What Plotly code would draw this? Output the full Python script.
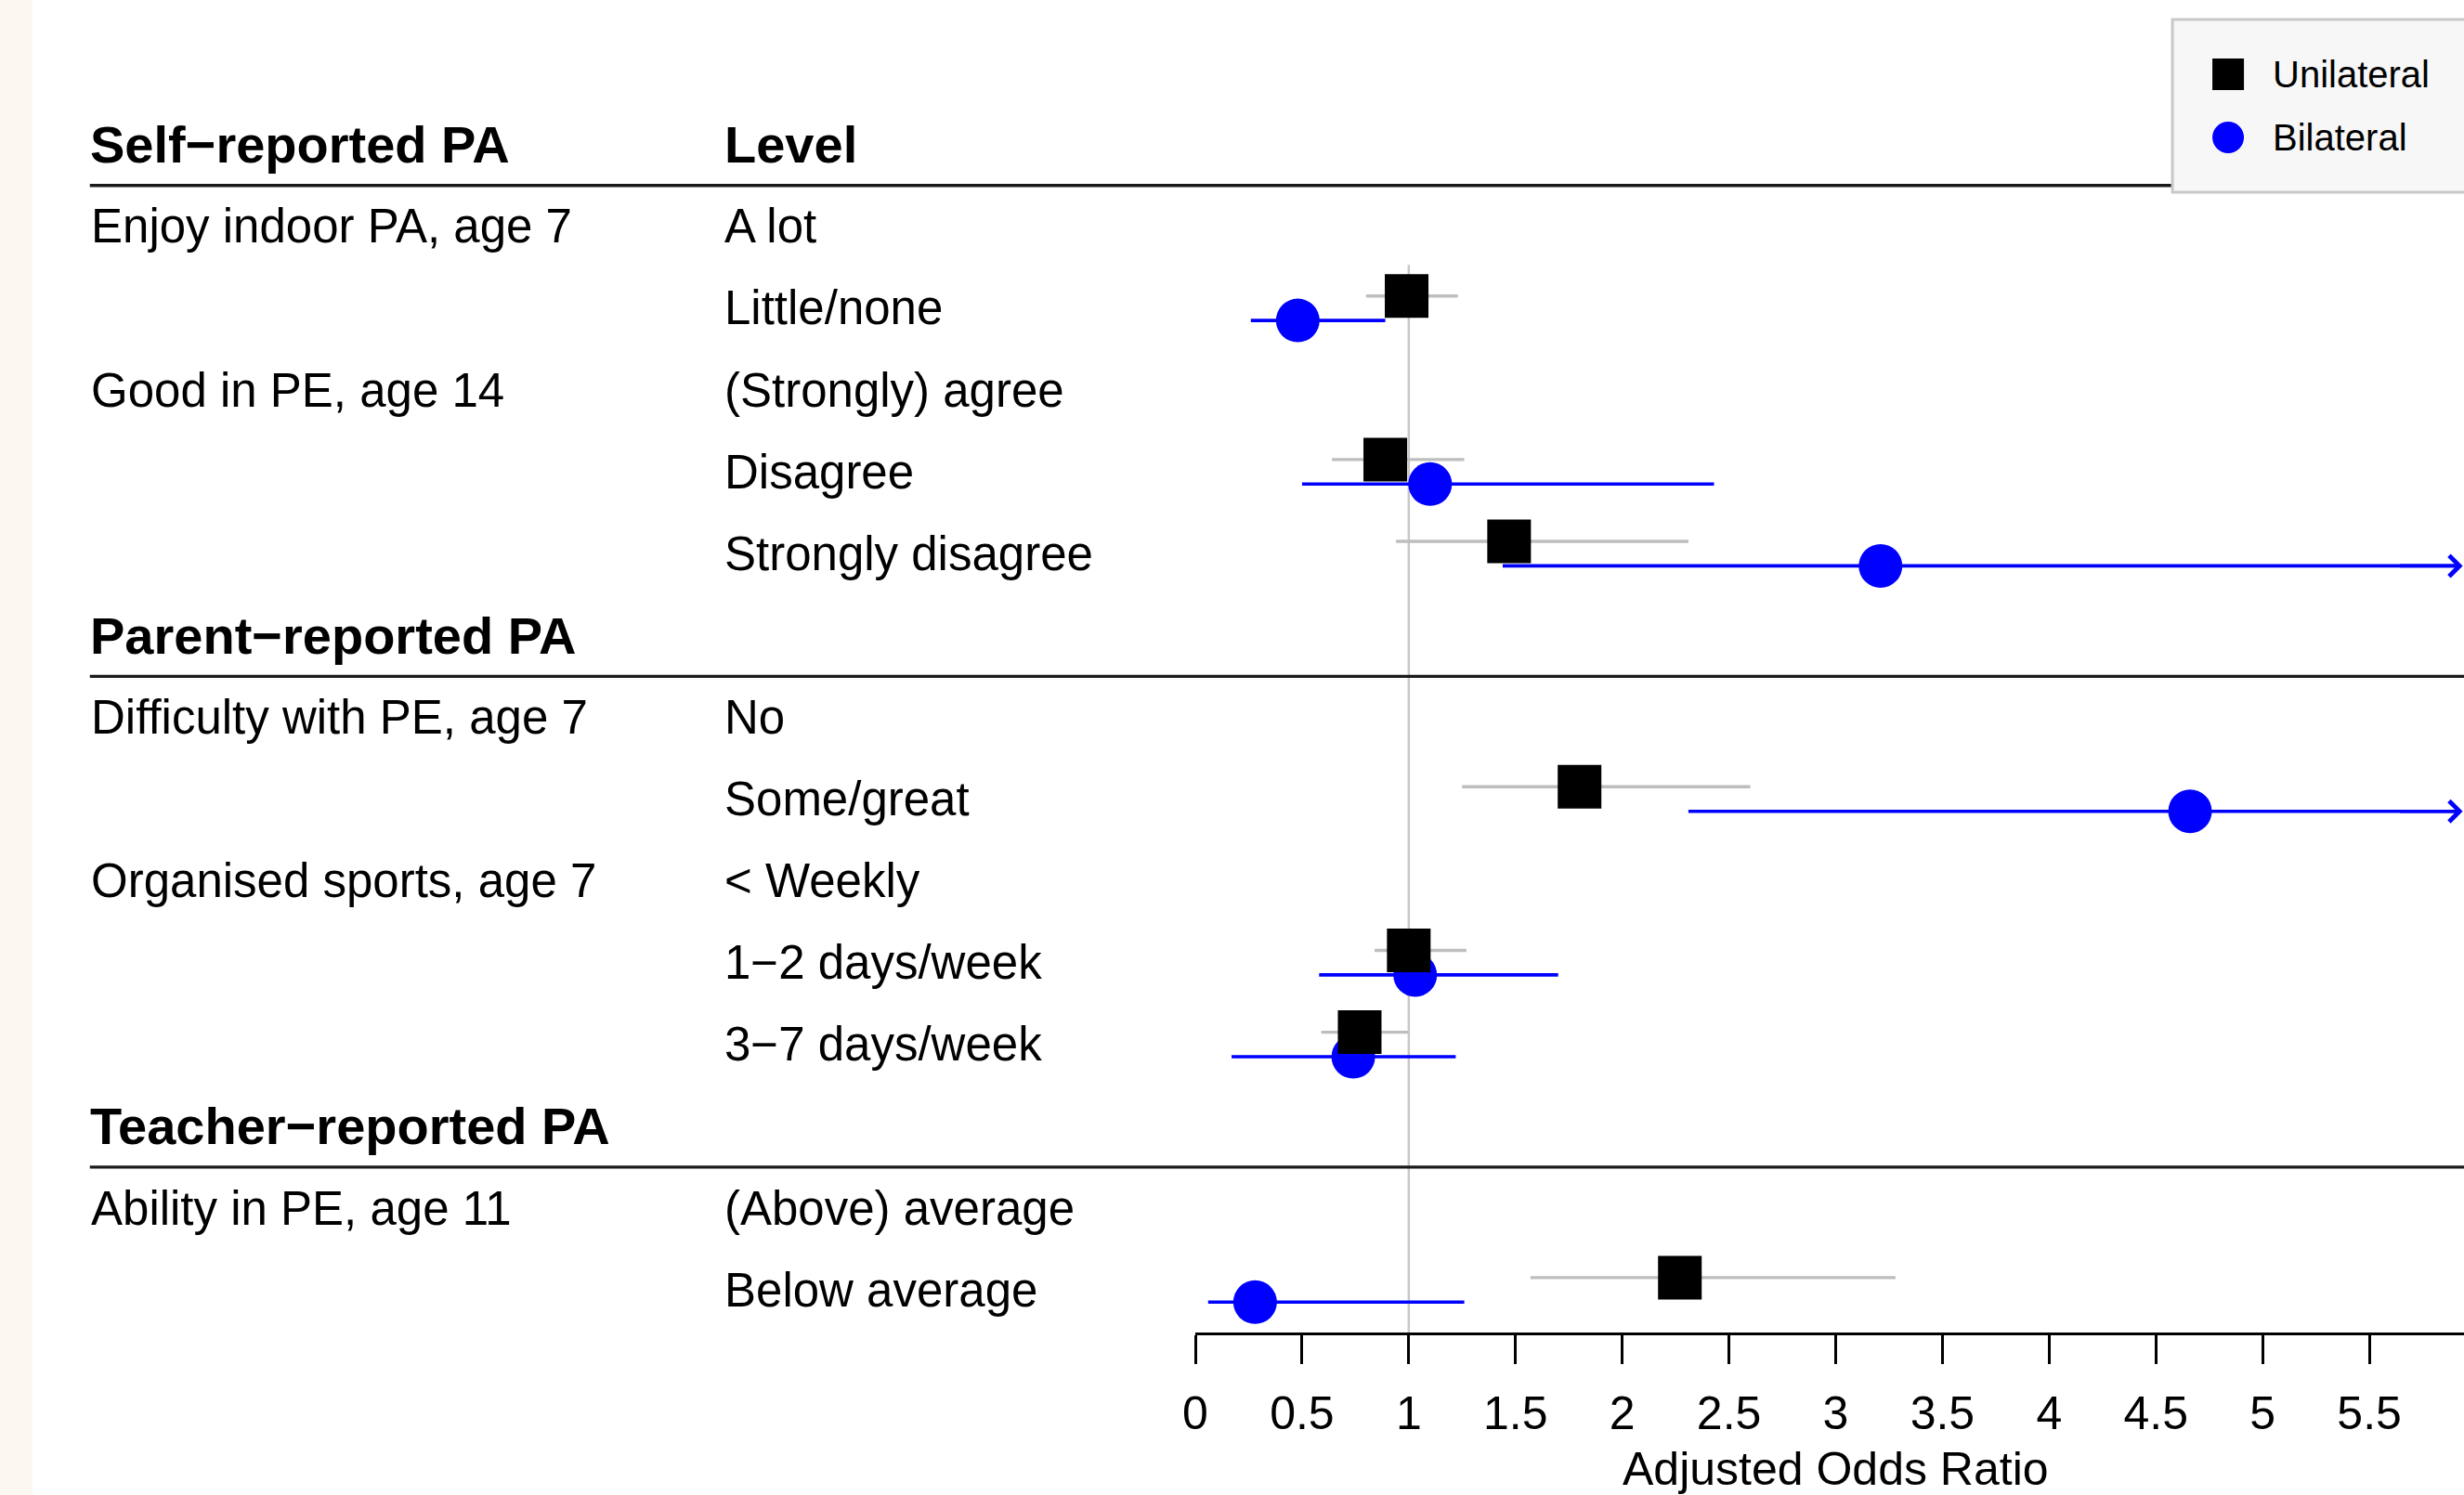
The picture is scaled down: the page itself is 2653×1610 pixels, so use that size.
import plotly.graph_objects as go

# ---------------- data ----------------
section_titles = ["Self\u2212reported PA", "Parent\u2212reported PA", "Teacher\u2212reported PA"]
section_rows = [0, 6, 12]
column_header_level = "Level"

variables = ["Enjoy indoor PA, age 7", "Good in PE, age 14", "Difficulty with PE, age 7",
             "Organised sports, age 7", "Ability in PE, age 11"]
variable_rows = [1, 3, 7, 9, 13]

levels = ["A lot", "Little/none", "(Strongly) agree", "Disagree", "Strongly disagree",
          "No", "Some/great", "< Weekly", "1\u22122 days/week", "3\u22127 days/week",
          "(Above) average", "Below average"]
level_rows = [1, 2, 3, 4, 5, 7, 8, 9, 10, 11, 13, 14]

est_levels = ["Little/none", "Disagree", "Strongly disagree", "Some/great",
              "1\u22122 days/week", "3\u22127 days/week", "Below average"]
uni_or = [0.99, 0.89, 1.47, 1.80, 1.00, 0.77, 2.27]
uni_lo = [0.80, 0.64, 0.94, 1.25, 0.84, 0.59, 1.57]
uni_hi = [1.23, 1.26, 2.31, 2.60, 1.27, 1.00, 3.28]
bi_or = [0.48, 1.10, 3.21, 4.66, 1.03, 0.74, 0.28]
bi_lo = [0.26, 0.50, 1.44, 2.31, 0.58, 0.17, 0.06]
bi_hi = [0.89, 2.43, None, None, 1.70, 1.22, 1.26]   # None = upper limit beyond axis (arrow)

x_ticks = [0, 0.5, 1, 1.5, 2, 2.5, 3, 3.5, 4, 4.5, 5, 5.5, 6]
x_tick_labels = ["0", "0.5", "1", "1.5", "2", "2.5", "3", "3.5", "4", "4.5", "5", "5.5", "6"]
x_title = "Adjusted Odds Ratio"
legend_names = ["Unilateral", "Bilateral"]
ref_value = 1

# ---------------- geometry / style ----------------
W, H = 2653, 1610
X0_PX = 1286.6          # pixel of OR = 0
PPU = 229.9             # pixels per OR unit
AXIS_PY = 1435          # pixel row of the x axis line
ROW0_PY = 155.7         # pixel of row 0
ROW_PX = 88.1           # pixels per row
OFF = 0.15              # vertical offset of the two series

FONT = "Liberation Sans, Arial, Helvetica, sans-serif"
BLUE = "#0000FF"
GREY = "#BEBEBE"

xmax = (W - X0_PX) / PPU
y_bottom = (AXIS_PY - ROW0_PY) / ROW_PX
y_top = -ROW0_PY / ROW_PX


def pxx(px):
    return (px - X0_PX) / (W - X0_PX)


def pxy(py):
    return (AXIS_PY - py) / AXIS_PY


rows_of = dict(zip(levels, level_rows))
est_rows = [rows_of[l] for l in est_levels]

uni_y = [r - OFF for r in est_rows]
bi_y = [r + OFF for r in est_rows]
tip = xmax - 0.006
bi_hi_disp = [h if h is not None else tip - 0.03 for h in bi_hi]

fig = go.Figure()

# Bilateral (drawn first, under the squares)
fig.add_trace(go.Scatter(
    x=bi_or, y=bi_y, mode="markers", name=legend_names[1],
    marker=dict(symbol="circle", size=47, color=BLUE, line=dict(width=0)),
    error_x=dict(type="data", symmetric=False,
                 array=[h - o for h, o in zip(bi_hi_disp, bi_or)],
                 arrayminus=[o - l for o, l in zip(bi_or, bi_lo)],
                 color=BLUE, thickness=3.6, width=0),
))

# Unilateral
fig.add_trace(go.Scatter(
    x=uni_or, y=uni_y, mode="markers", name=legend_names[0],
    marker=dict(symbol="square", size=47, color="black", line=dict(width=0)),
    error_x=dict(type="data", symmetric=False,
                 array=[h - o for h, o in zip(uni_hi, uni_or)],
                 arrayminus=[o - l for o, l in zip(uni_or, uni_lo)],
                 color=GREY, thickness=3.4, width=0),
))

annotations = []
shapes = []

# left beige strip
shapes.append(dict(type="rect", xref="paper", yref="paper", x0=pxx(-10), x1=pxx(34),
                   y0=pxy(H + 10), y1=pxy(-10), fillcolor="#FCF7F0", line=dict(width=0),
                   layer="below"))

# reference line at OR = 1
shapes.append(dict(type="line", xref="x", yref="y", x0=ref_value, x1=ref_value,
                   y0=1.47, y1=y_bottom, line=dict(color="#C8C8C8", width=2.5), layer="below"))

# section header lines
for r in section_rows:
    shapes.append(dict(type="line", xref="paper", yref="y", x0=pxx(96), x1=1.02,
                       y0=r + 0.5, y1=r + 0.5, line=dict(color="#1A1A1A", width=3.3)))

# section titles
for t, r in zip(section_titles, section_rows):
    annotations.append(dict(text="<b>%s</b>" % t, xref="paper", yref="y", x=pxx(94), y=r,
                            xanchor="left", yanchor="middle", showarrow=False,
                            font=dict(family=FONT, size=56, color="black")))
annotations.append(dict(text="<b>%s</b>" % column_header_level, xref="paper", yref="y",
                        x=pxx(777), y=section_rows[0], xanchor="left", yanchor="middle",
                        showarrow=False, font=dict(family=FONT, size=56, color="black")))

for t, r in zip(variables, variable_rows):
    annotations.append(dict(text=t, xref="paper", yref="y", x=pxx(95), y=r,
                            xanchor="left", yanchor="middle", showarrow=False,
                            font=dict(family=FONT, size=51, color="black")))
for t, r in zip(levels, level_rows):
    annotations.append(dict(text=t, xref="paper", yref="y", x=pxx(777), y=r,
                            xanchor="left", yanchor="middle", showarrow=False,
                            font=dict(family=FONT, size=51, color="black")))

# arrows for truncated upper limits
for h, y in zip(bi_hi, bi_y):
    if h is None:
        annotations.append(dict(text="", x=tip, y=y, xref="x", yref="y",
                                ax=tip - 0.3, ay=y, axref="x", ayref="y",
                                showarrow=True, arrowhead=4, arrowsize=1.2,
                                arrowwidth=3.6, arrowcolor=BLUE, standoff=0))

# axis title (centred on full 0-6 axis) and the clipped "6" label
annotations.append(dict(text=x_title, xref="paper", yref="paper",
                        x=pxx(X0_PX + 3 * PPU), y=pxy(1582), xanchor="center", yanchor="middle",
                        showarrow=False, font=dict(family=FONT, size=50, color="black")))
annotations.append(dict(text=x_tick_labels[-1], xref="paper", yref="paper",
                        x=pxx(X0_PX + x_ticks[-1] * PPU), y=pxy(1522), xanchor="center",
                        yanchor="middle", showarrow=False,
                        font=dict(family=FONT, size=50, color="black")))

# legend (drawn manually)
shapes.append(dict(type="rect", xref="paper", yref="paper", x0=pxx(2339), x1=pxx(W + 60),
                   y0=pxy(207), y1=pxy(21), fillcolor="#F7F7F7",
                   line=dict(color="#C8C8C8", width=3)))
shapes.append(dict(type="rect", xref="paper", yref="paper", x0=pxx(2382), x1=pxx(2416),
                   y0=pxy(97), y1=pxy(63), fillcolor="black", line=dict(width=0)))
shapes.append(dict(type="circle", xref="paper", yref="paper", x0=pxx(2382), x1=pxx(2416),
                   y0=pxy(165), y1=pxy(131), fillcolor=BLUE, line=dict(width=0)))
for name, py in zip(legend_names, [80, 148]):
    annotations.append(dict(text=name, xref="paper", yref="paper", x=pxx(2445), y=pxy(py),
                            xanchor="left", yanchor="middle", showarrow=False,
                            font=dict(family=FONT, size=40, color="black")))

fig.update_layout(
    width=W, height=H,
    margin=dict(l=X0_PX, r=0, t=0, b=H - AXIS_PY, pad=0),
    paper_bgcolor="white", plot_bgcolor="white",
    showlegend=False,
    shapes=shapes, annotations=annotations,
    font=dict(family=FONT, color="black"),
    xaxis=dict(range=[0, xmax], tickvals=x_ticks, ticktext=x_tick_labels,
               ticks="outside", ticklen=31, tickwidth=3.3, tickcolor="black",
               ticklabelstandoff=10,
               showline=True, linewidth=3.3, linecolor="black",
               showgrid=False, zeroline=False,
               tickfont=dict(family=FONT, size=50, color="black")),
    yaxis=dict(range=[y_bottom, y_top], showticklabels=False, showgrid=False,
               zeroline=False, showline=False, ticks=""),
)

fig.write_html("out.html", config={"displayModeBar": False},
               post_script="document.body.style.margin='0';document.body.style.padding='0';"
                           "document.documentElement.style.overflow='hidden';")
